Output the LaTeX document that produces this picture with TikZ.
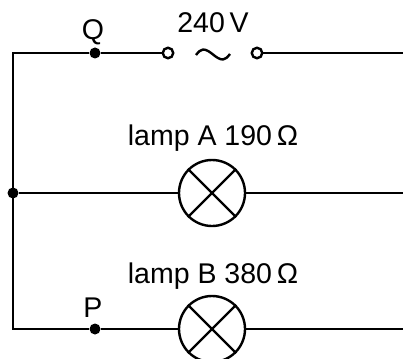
\documentclass[tikz,border=0pt]{standalone}
\usepackage{fontspec}
\setmainfont{Liberation Sans}
\begin{document}
\begin{tikzpicture}[x=1pt,y=-1pt,
  wire/.style={line width=2.4pt},
  lampbulb/.style={circle,draw,line width=2.4pt,minimum size=66pt,inner sep=0pt},
  term/.style={circle,draw,fill=white,line width=2.4pt,minimum size=10.5pt,inner sep=0pt},
  junc/.style={circle,fill=black,minimum size=11pt,inner sep=0pt},
  lbl/.style={font=\fontsize{28.5}{34}\selectfont,anchor=base,inner sep=0pt}]
\useasboundingbox (0,0) rectangle (403,358);
% corners and ends
\coordinate (tl) at (13,53);
\coordinate (tr) at (403,53);
\coordinate (mr) at (403,193);
\coordinate (bl) at (13,329);
\coordinate (br) at (403,329);
% junctions
\node[junc] (Q) at (95,53) {};
\node[junc] (J) at (13,193) {};
\node[junc] (P) at (95,329) {};
% supply terminals
\node[term] (t1) at (168,53) {};
\node[term] (t2) at (257,53) {};
% lamps
\node[lampbulb] (lampA) at (212,193) {};
\node[lampbulb] (lampB) at (212,329) {};
\foreach \l in {lampA,lampB}{
  \draw[wire] (\l.45) -- (\l.225);
  \draw[wire] (\l.135) -- (\l.315);
}
% wires
\draw[wire] (tr) -- (t2);
\draw[wire] (t1) -- (Q) -- (tl) -- (bl) -- (P) -- (lampB.west);
\draw[wire] (lampB.east) -- (br);
\draw[wire] (J) -- (lampA.west);
\draw[wire] (lampA.east) -- (mr);
% tilde
\draw[wire] (196,55) sin (203,49.5) cos (213,54.5) sin (223,59.5) cos (230,54);
% labels
\node[lbl] (lV) at (213,33) {240\,V};
\node[lbl] (lQ) at (93,40) {Q};
\node[lbl] (lA) at (213,145) {lamp A 190\,Ω};
\node[lbl] (lB) at (213,283) {lamp B 380\,Ω};
\node[lbl] (lP) at (93,317) {P};
\end{tikzpicture}
\end{document}
